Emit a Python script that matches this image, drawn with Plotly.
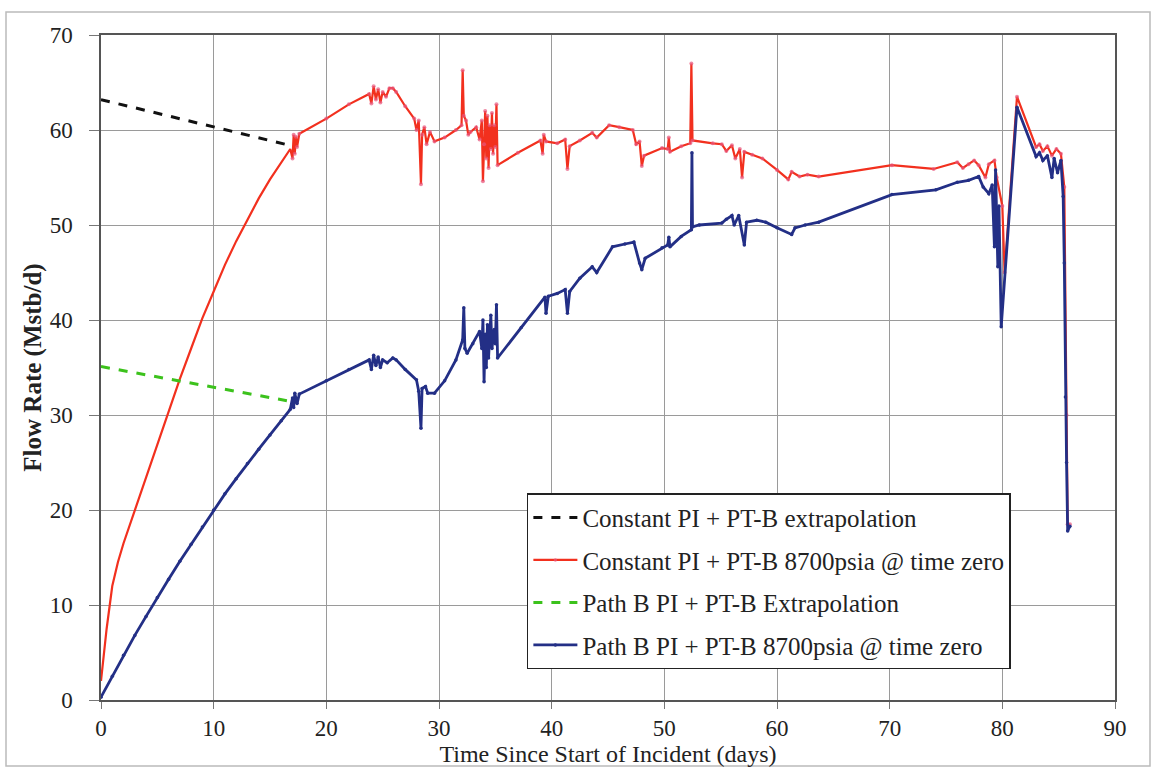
import plotly.graph_objects as go

# Constant PI + PT-B extrapolation (black)
ext_const_x = [0, 16.7]
ext_const_y = [63.2, 58.4]

# Path B PI + PT-B Extrapolation (green)
ext_pathb_x = [0, 17.0]
ext_pathb_y = [35.1, 31.4]

# Constant PI + PT-B 8700psia @ time zero (red)
const_x = [0, 0.5, 1, 1.5, 2, 3, 4, 5, 6, 7, 8, 9, 10, 11, 12, 13, 14, 15, 16, 16.8,
           17.0, 17.1, 17.2, 17.3, 17.4, 17.6, 20, 22, 23.8, 24.0, 24.2, 24.4, 24.6, 24.8,
           25.0, 25.3, 25.6, 25.9, 26.2, 27, 27.8, 28.0, 28.2, 28.4, 28.5, 28.7, 28.9, 29.2,
           29.6, 30.5, 31.5, 32.0, 32.1, 32.2, 32.4, 32.6, 32.8, 33.3, 33.6, 33.8, 33.9, 34.0,
           34.1, 34.2, 34.3, 34.4, 34.5, 34.6, 34.7, 34.8, 34.9, 35.0, 35.1, 35.2, 37, 39.0,
           39.2, 39.3, 39.5, 40.5, 41.2, 41.4, 41.6, 42.5, 43.6, 44.0, 45.1, 46, 47.2, 47.5,
           47.8, 48.0, 48.2, 49.8, 50.3, 50.4, 50.5, 51.5, 52.3, 52.4, 52.5, 54.3, 55.1, 55.5,
           56.0, 56.3, 56.7, 56.9, 57.1, 57.8, 58.7, 60.0, 61.0, 61.3, 62.0, 62.7, 63.7, 70.2,
           73.9, 76.0, 76.5, 77.0, 77.5, 77.9, 78.5, 78.8, 79.3, 79.5, 80.0, 80.2, 81.3, 83.0,
           83.3, 83.6, 84.0, 84.4, 84.8, 85.2, 85.5, 85.7, 85.8, 86.0]
const_y = [2, 7.5, 12, 14.5, 16.5, 20, 23.5, 27, 30.5, 33.8, 37, 40.2, 43, 45.8, 48.3, 50.6, 52.8, 54.8, 56.6, 58,
           57, 59.5, 57.5, 59.3, 58.2, 59.6, 61.2, 62.7, 63.8, 62.8, 64.6, 63.2, 64.3, 62.9,
           64.0, 63.5, 64.4, 64.4, 64.0, 62.5, 61.2, 60.0, 61.0, 54.3, 59.5, 60.3, 58.5, 59.8,
           58.8, 59.2, 60.0, 60.5, 66.3, 61.5, 61.0, 59.5, 59.8, 60.3, 59.0, 61.0, 54.6, 58.5,
           62.0, 57.0, 61.5, 56.0, 60.5, 58.0, 61.8, 57.5, 60.5, 58.2, 62.7, 56.3, 57.6, 58.9,
           57.5, 59.5, 58.8, 58.6, 59.0, 55.9, 58.3, 58.9, 59.7, 59.2, 60.5, 60.3, 60.0, 58.5,
           58.8, 56.2, 57.3, 58.1, 58.0, 59.2, 57.7, 58.3, 58.6, 67.0, 58.9, 58.6, 58.5, 57.8,
           58.4, 57.0, 58.0, 55.0, 57.7, 57.4, 57.0, 55.8, 54.8, 55.6, 55.1, 55.3, 55.1, 56.3,
           55.9, 56.6, 56.0, 56.4, 56.8, 56.3, 55.0, 56.4, 56.8, 55.0, 52.0, 45.0, 63.5, 58.2,
           58.5, 57.8, 58.3, 57.3, 58.0, 57.5, 54.0, 30.0, 18.5, 18.5]

# Path B PI + PT-B 8700psia @ time zero (blue)
pathb_x = [0, 1, 2, 3, 4, 5, 6, 7, 8, 9, 10, 11, 12, 13, 14, 15, 16, 16.8,
           17.0, 17.1, 17.2, 17.4, 17.6, 20, 22, 23.8, 24.0, 24.2, 24.4, 24.6, 24.8,
           25.0, 25.4, 25.9, 26.2, 27, 28, 28.2, 28.4, 28.5, 28.8, 29.0, 29.6, 30.5, 31.5,
           32.1, 32.2, 32.3, 32.5, 33.0, 33.6, 33.8, 33.9, 34.0, 34.1, 34.2, 34.3, 34.4, 34.6,
           34.7, 34.9, 35.0, 35.1, 35.2, 37.3, 39.4, 39.5, 39.7, 40.5, 41.2, 41.4, 41.6, 42.5,
           43.6, 44.0, 45.4, 46.5, 47.3, 47.8, 48.0, 48.3, 49.8, 50.3, 50.4, 50.5, 51.5, 52.4,
           52.45, 52.5, 53.1, 55.1, 55.5, 56.0, 56.2, 56.6, 57.1, 57.3, 58.2, 59.0, 60.0, 61.3,
           61.6, 62.5, 63.7, 70.2, 74.1, 76.0, 77.0, 77.9, 78.3, 78.8, 79.1, 79.3, 79.4, 79.6,
           79.7, 79.9, 81.3, 83.0, 83.3, 83.6, 84.0, 84.4, 84.6, 84.9, 85.2, 85.4, 85.5, 85.6,
           85.7, 85.8, 86.0]
pathb_y = [0.3, 2.5, 4.7, 6.8, 8.8, 10.8, 12.7, 14.6, 16.4, 18.2, 20, 21.7, 23.3, 24.9, 26.4, 27.9, 29.4, 30.6,
           31.8, 30.8, 32.3, 31.2, 32.2, 33.6, 34.8, 35.8, 34.8, 36.3, 35.2, 36.1, 35.0,
           35.8, 35.5, 36.0, 35.8, 34.8, 33.7, 32.5, 28.6, 32.8, 33.0, 32.3, 32.3, 33.6, 35.8,
           37.9, 41.3, 37.0, 36.5, 37.5, 38.8, 37.0, 40.0, 33.5, 38.5, 35.0, 39.5, 36.0, 40.5,
           37.0, 39.0, 37.5, 41.6, 36.0, 39.2, 42.4, 40.7, 42.5, 42.8, 43.2, 40.7, 43.0, 44.4,
           45.6, 45.0, 47.7, 48.0, 48.2, 46.0, 45.3, 46.5, 47.6, 47.9, 48.7, 47.7, 48.8, 49.5,
           57.6, 49.8, 50.0, 50.2, 50.6, 51.0, 50.0, 51.0, 47.9, 50.3, 50.5, 50.3, 49.7, 49.0,
           49.7, 50.0, 50.3, 53.2, 53.7, 54.5, 54.7, 55.1, 54.0, 53.3, 54.2, 47.7, 55.8, 45.6,
           52.0, 39.3, 62.4, 57.2, 57.6, 56.8, 57.3, 55.0, 57.0, 55.5, 56.8, 53.0, 46.0, 31.9,
           25.0, 17.8, 18.3]

FONT = "Liberation Serif"

const_marker_sizes = [0 if x < 16.9 else 4 for x in const_x]

fig = go.Figure()
fig.add_trace(go.Scatter(
    x=ext_const_x, y=ext_const_y, mode="lines",
    name="Constant PI + PT-B extrapolation", legendgroup="a",
    line=dict(color="#111111", width=3, dash="dash")))
fig.add_trace(go.Scatter(
    x=const_x, y=const_y, mode="lines+markers",
    name="Constant PI + PT-B 8700psia @ time zero", legendgroup="b",
    line=dict(color="#f2301e", width=2.2),
    marker=dict(color="#e8557c", size=const_marker_sizes, line=dict(width=0))))
fig.add_trace(go.Scatter(
    x=ext_pathb_x, y=ext_pathb_y, mode="lines",
    name="Path B PI + PT-B Extrapolation", legendgroup="c",
    line=dict(color="#3cc21c", width=3, dash="dash")))
fig.add_trace(go.Scatter(
    x=pathb_x, y=pathb_y, mode="lines+markers",
    name="Path B PI + PT-B 8700psia @ time zero", legendgroup="d",
    line=dict(color="#232f86", width=2.8),
    marker=dict(color="#232f86", size=3.5)))

fig.update_layout(
    width=1157, height=772,
    margin=dict(l=101, r=42, t=35, b=72),
    paper_bgcolor="white", plot_bgcolor="white",
    font=dict(family=FONT, size=22, color="#222222"),
    showlegend=True,
    legend=dict(
        x=0.42, y=0.311, xanchor="left", yanchor="top",
        bgcolor="white", bordercolor="#222222", borderwidth=1.5,
        font=dict(family=FONT, size=25, color="#222222"),
        tracegroupgap=7, itemwidth=44,
    ),
    xaxis=dict(
        range=[0, 90], dtick=10, tick0=0,
        showgrid=True, gridcolor="#9a9a9a", gridwidth=1,
        showline=True, linecolor="#555555", linewidth=1.5, mirror=True,
        ticks="outside", ticklen=7, tickcolor="#777777",
        zeroline=False,
        tickfont=dict(family=FONT, size=23),
        title=dict(text="Time Since Start of Incident (days)", standoff=0,
                   font=dict(family=FONT, size=24)),
    ),
    yaxis=dict(
        range=[0, 70], dtick=10, tick0=0,
        showgrid=True, gridcolor="#9a9a9a", gridwidth=1,
        showline=True, linecolor="#555555", linewidth=1.5, mirror=True,
        ticks="outside", ticklen=10, tickcolor="#777777",
        ticklabelstandoff=12,
        zeroline=False,
        tickfont=dict(family=FONT, size=23),
        title=dict(text="<b>Flow Rate (Mstb/d)</b>", standoff=1,
                   font=dict(family=FONT, size=25)),
    ),
    shapes=[dict(type="rect", xref="paper", yref="paper",
                 x0=(6 - 101) / 1014, x1=(1150 - 101) / 1014,
                 y0=(665 - (766 - 35)) / 665, y1=(665 - (12 - 35)) / 665,
                 line=dict(color="#bbbbbb", width=1.5), layer="below")],
)

fig.write_html("out.html")
